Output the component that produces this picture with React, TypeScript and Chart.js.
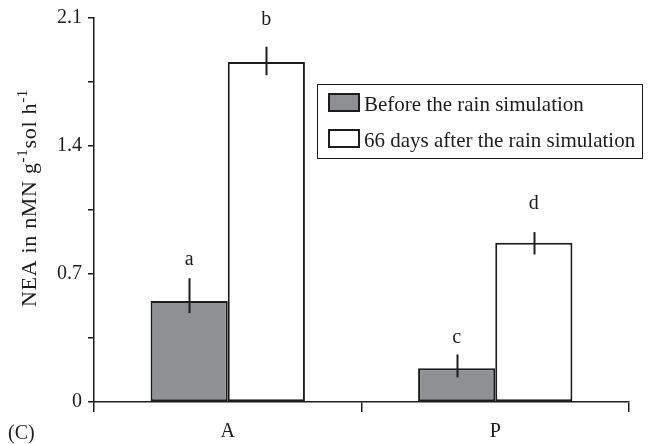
import React, { useEffect, useRef } from 'react';
import { Chart, registerables } from 'chart.js';

Chart.register(...registerables);

const categories = ['A', 'P'];
const seriesNames = ['Before the rain simulation', '66 days after the rain simulation'];
const beforeValues = [0.553, 0.184];
const afterValues = [1.86, 0.871];
const beforeErrUp = [0.124, 0.076];
const beforeErrDown = [0.067, 0.049];
const afterErrUp = [0.083, 0.058];
const afterErrDown = [0.073, 0.064];
const beforeLetters = ['a', 'c'];
const afterLetters = ['b', 'd'];
const beforeLetterY = [0.747, 0.324];
const afterLetterY = [2.062, 1.058];
const yTicks = [0, 0.35, 0.7, 1.05, 1.4, 1.75, 2.1];
const yTickLabels = ['0', '', '0.7', '', '1.4', '', '2.1'];
const panelLabel = '(C)';

const FONT = '"Liberation Serif", "Times New Roman", serif';
const INK = '#1c1c1c';
const GRAY = '#8f9094';

export default function App() {
  const ref = useRef<HTMLCanvasElement | null>(null);

  useEffect(() => {
    document.body.style.margin = '0';
    const canvas = ref.current;
    if (!canvas) return;

    const overlay = {
      id: 'overlay',
      afterDatasetsDraw(chart: any) {
        const ctx = chart.ctx;
        const y = chart.scales.y;
        const sets = [
          { up: beforeErrUp, down: beforeErrDown, vals: beforeValues, letters: beforeLetters, ly: beforeLetterY },
          { up: afterErrUp, down: afterErrDown, vals: afterValues, letters: afterLetters, ly: afterLetterY },
        ];
        ctx.save();
        sets.forEach((s, di) => {
          const meta = chart.getDatasetMeta(di);
          meta.data.forEach((bar: any, i: number) => {
            const x = Math.round(bar.x) + 0.5;
            ctx.strokeStyle = INK;
            ctx.lineWidth = 2;
            ctx.beginPath();
            ctx.moveTo(x, y.getPixelForValue(s.vals[i] + s.up[i]));
            ctx.lineTo(x, y.getPixelForValue(s.vals[i] - s.down[i]));
            ctx.stroke();
            ctx.fillStyle = INK;
            ctx.font = `20px ${FONT}`;
            ctx.textAlign = 'center';
            ctx.textBaseline = 'alphabetic';
            ctx.fillText(s.letters[i], bar.x, y.getPixelForValue(s.ly[i]));
          });
        });
        ctx.restore();
      },
      afterDraw(chart: any) {
        const ctx = chart.ctx;
        ctx.save();
        // y-axis title with superscripts
        const main = 22;
        const sup = 15;
        const spacing = 0.7;
        const parts: [string, boolean][] = [
          ['NEA in nMN g', false],
          ['-1', true],
          ['sol h', false],
          ['-1', true],
        ];
        (ctx as any).letterSpacing = `${spacing}px`;
        let total = 0;
        parts.forEach(([t, s]) => {
          ctx.font = `${s ? sup : main}px ${FONT}`;
          total += ctx.measureText(t).width;
        });
        const cy = (chart.chartArea.top + chart.chartArea.bottom) / 2 - 12;
        ctx.translate(36, cy);
        ctx.rotate(-Math.PI / 2);
        ctx.fillStyle = INK;
        ctx.textAlign = 'left';
        ctx.textBaseline = 'alphabetic';
        let px = -total / 2;
        parts.forEach(([t, s]) => {
          ctx.font = `${s ? sup : main}px ${FONT}`;
          ctx.fillText(t, px, s ? -9 : 0);
          px += ctx.measureText(t).width;
        });
        (ctx as any).letterSpacing = '0px';
        ctx.restore();

        // panel label
        ctx.save();
        ctx.fillStyle = INK;
        ctx.font = `20px ${FONT}`;
        ctx.textAlign = 'left';
        ctx.textBaseline = 'alphabetic';
        ctx.fillText(panelLabel, 8, 439);
        ctx.restore();

        // legend box
        ctx.save();
        const bx = 317.5, by = 84.5, bw = 325, bh = 74;
        ctx.fillStyle = '#ffffff';
        ctx.fillRect(bx, by, bw, bh);
        ctx.strokeStyle = INK;
        ctx.lineWidth = 1;
        ctx.strokeRect(bx, by, bw, bh);
        const fills = [GRAY, '#ffffff'];
        const rows = [94, 130];
        rows.forEach((ry, i) => {
          ctx.fillStyle = fills[i];
          ctx.fillRect(329, ry, 30, 17);
          ctx.strokeStyle = INK;
          ctx.lineWidth = 2;
          ctx.strokeRect(329, ry, 30, 17);
          ctx.fillStyle = INK;
          ctx.font = `21px ${FONT}`;
          ctx.textAlign = 'left';
          ctx.textBaseline = 'alphabetic';
          ctx.fillText(seriesNames[i], 364, ry + 17);
        });
        ctx.restore();
      },
    };

    const chart = new Chart(canvas, {
      type: 'bar',
      data: {
        labels: categories,
        datasets: [
          {
            label: seriesNames[0],
            data: beforeValues,
            backgroundColor: GRAY,
            borderColor: INK,
            borderWidth: 2,
            borderSkipped: false,
            categoryPercentage: 0.577,
            barPercentage: 1,
          },
          {
            label: seriesNames[1],
            data: afterValues,
            backgroundColor: '#ffffff',
            borderColor: INK,
            borderWidth: 2,
            borderSkipped: false,
            categoryPercentage: 0.577,
            barPercentage: 1,
          },
        ],
      },
      options: {
        responsive: false,
        animation: false,
        devicePixelRatio: 1,
        layout: { padding: { left: 0, top: 17, right: 31, bottom: 0 } },
        plugins: {
          legend: { display: false },
          tooltip: { enabled: false },
        },
        scales: {
          x: {
            type: 'category',
            offset: true,
            grid: {
              offset: true,
              drawOnChartArea: false,
              drawTicks: true,
              tickLength: 10,
              color: INK,
              lineWidth: 1.5,
            },
            border: { color: INK, width: 1.5 },
            ticks: {
              color: INK,
              font: { family: FONT, size: 20 },
              padding: 8,
            },
            afterFit: (s: any) => {
              s.height = 42;
            },
          },
          y: {
            min: 0,
            max: 2.1,
            afterBuildTicks: (s: any) => {
              s.ticks = yTicks.map((v) => ({ value: v }));
            },
            grid: {
              drawOnChartArea: false,
              drawTicks: true,
              tickLength: 6,
              color: INK,
              lineWidth: 1.5,
            },
            border: { color: INK, width: 1.5 },
            ticks: {
              color: INK,
              font: { family: FONT, size: 20 },
              padding: 6,
              callback: (_v: any, i: number) => yTickLabels[i],
            },
            afterFit: (s: any) => {
              s.width = 94;
            },
          },
        },
      },
      plugins: [overlay],
    });

    return () => chart.destroy();
  }, []);

  return (
    <div style={{ width: 660, height: 444, background: '#ffffff' }}>
      <canvas ref={ref} width={660} height={444} />
    </div>
  );
}
